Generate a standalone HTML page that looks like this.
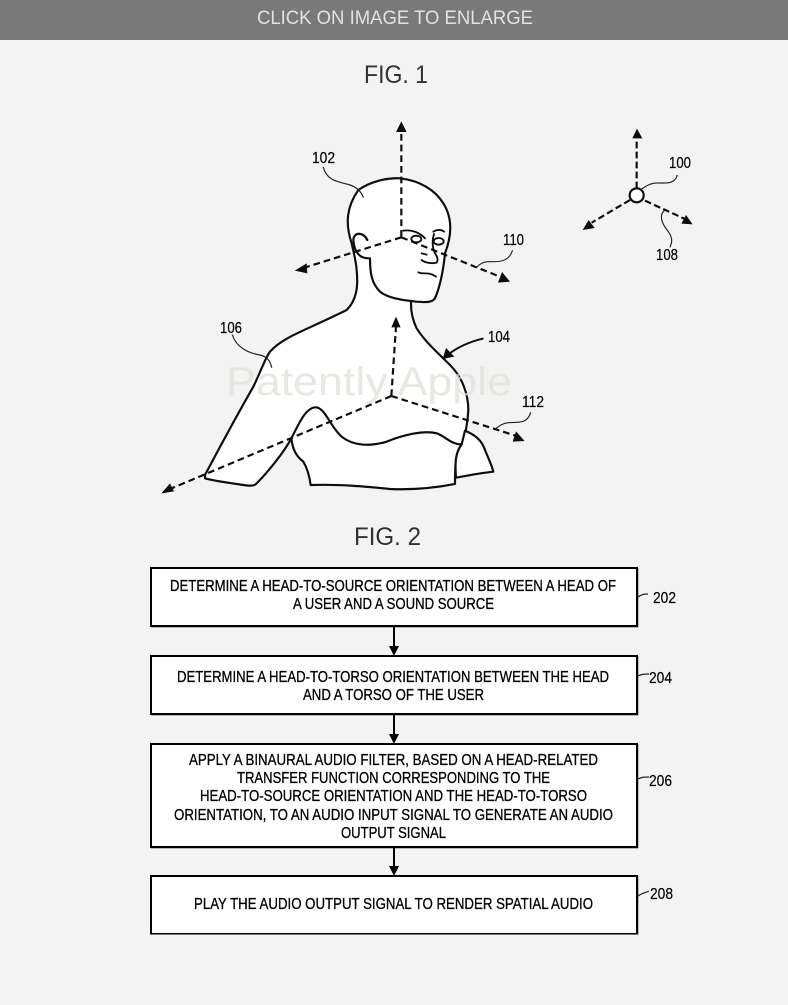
<!DOCTYPE html>
<html><head><meta charset="utf-8"><style>
html,body{margin:0;padding:0;background:#f3f3f3}
svg{display:block}
text{font-family:"Liberation Sans",sans-serif;fill:#222}
.t{font-size:16px;text-anchor:start;fill:#000;stroke:#000;stroke-width:.3px}
.n{font-size:16px;fill:#000;stroke:#000;stroke-width:.2px}
</style></head><body>
<svg xmlns="http://www.w3.org/2000/svg" width="788" height="1005" viewBox="0 0 788 1005">
<defs><filter id="b" x="0" y="0" width="100%" height="100%"><feGaussianBlur stdDeviation="0.35"/></filter></defs>
<rect width="788" height="1005" fill="#f3f3f3"/>
<g filter="url(#b)">
<rect width="788" height="40" fill="#797979"/>
<text x="257" y="24" font-size="19" style="fill:#e2e2e2" textLength="276" lengthAdjust="spacingAndGlyphs">CLICK ON IMAGE TO ENLARGE</text>
<text x="364" y="83" font-size="25" style="fill:#333" textLength="64" lengthAdjust="spacingAndGlyphs">FIG. 1</text>
<text x="354" y="545" font-size="25" style="fill:#333" textLength="67" lengthAdjust="spacingAndGlyphs">FIG. 2</text>

<g transform="translate(150 110) scale(.33333)" fill="none" stroke="#111" stroke-width="6.5" stroke-linecap="round" stroke-linejoin="round">
<path fill="#fff" d="M605 400C585 340 590 290 625 240C660 215 710 203 750 205C810 212 855 240 880 280C905 320 908 370 885 430C880 480 870 530 855 565C845 578 830 577 800 575L783 573C782 600 785 625 800 655C825 695 860 725 900 765C935 800 955 850 955 900C953 940 945 980 935 1003C915 1030 915 1070 915 1122C850 1135 790 1140 720 1137C650 1130 570 1122 482 1125C478 1095 472 1075 460 1055C440 1040 428 1020 424 985C400 1030 350 1090 318 1122C310 1130 290 1127 260 1122C225 1117 190 1112 165 1105L165 1095C210 1010 270 900 310 830C330 790 345 745 360 725C400 680 470 660 590 600C620 570 625 530 620 480C618 450 610 425 605 400Z"/>
<path fill="#fff" d="M945 962C975 975 995 990 1005 1020C1015 1045 1025 1065 1030 1085C1000 1088 960 1095 918 1103C915 1060 915 1030 935 1003Z"/>
<path d="M424 985C445 945 465 895 495 892C525 890 540 950 575 980C610 1008 660 1010 710 995C760 975 820 960 860 970C885 978 905 1005 935 1003"/>
<path fill="#fff" d="M652 390C640 365 612 365 610 390C612 420 625 445 655 445" />
<path d="M660 445C660 490 665 520 690 545C715 565 760 570 783 573"/>
<path stroke-width="5.5" d="M760 362C785 358 810 368 825 385"/>
<ellipse cx="799" cy="387" rx="15" ry="10" stroke-width="5.5"/>
<ellipse cx="866" cy="394" rx="15" ry="10" stroke-width="5.5"/>
<path stroke-width="5.5" d="M850 365C860 358 875 358 882 365M852 372C845 395 848 415 855 430C862 440 865 450 860 458C845 462 825 458 815 450M815 430L830 434"/>
<path stroke-width="5.5" d="M805 487C820 495 835 483 858 500"/>
<g stroke-width="3.5" stroke="#222">
<path d="M520 172C530 210 560 215 590 222C615 228 632 240 640 262"/>
<path d="M247 675C260 715 300 730 330 735C350 740 360 750 365 772"/>
<path d="M1087 422C1075 460 1040 455 1015 455C1000 455 990 460 980 472"/>
<path d="M1142 908C1130 945 1100 935 1075 938C1055 940 1045 950 1035 958"/>
</g>
<path stroke-width="6" d="M998 686C960 695 925 710 895 733"/>
<path fill="#111" stroke="none" d="M878 747L888 714L913 740Z"/>
<g stroke-width="6.5" stroke-dasharray="20 12" stroke-linecap="butt">
<path d="M754 380V60"/>
<path d="M754 382L460 474"/>
<path d="M754 382L1050 500"/>
<path d="M724 858L738 650"/>
<path d="M724 858L60 1137"/>
<path d="M724 858L1100 978"/>
</g>
<g fill="#111" stroke="none">
<path d="M754 34L770 66H738Z"/>
<path d="M434 482L470 460L472 490Z"/>
<path d="M1080 515L1044 518L1056 486Z"/>
<path d="M738 620L752 652H724Z"/>
<path d="M34 1150L60 1120L72 1144Z"/>
<path d="M1124 993L1088 995L1098 964Z"/>
</g>
</g>

<text x="226" y="395" font-size="40" style="fill:#e2ded6;opacity:.7" textLength="286" lengthAdjust="spacingAndGlyphs">Patently Apple</text>

<text class="n" x="312" y="163" textLength="23" lengthAdjust="spacingAndGlyphs">102</text>
<text class="n" x="503" y="245" textLength="21" lengthAdjust="spacingAndGlyphs">110</text>
<text class="n" x="220" y="333" textLength="22" lengthAdjust="spacingAndGlyphs">106</text>
<text class="n" x="488" y="342" textLength="22" lengthAdjust="spacingAndGlyphs">104</text>
<text class="n" x="522" y="407" textLength="22" lengthAdjust="spacingAndGlyphs">112</text>
<text class="n" x="669" y="168" textLength="22" lengthAdjust="spacingAndGlyphs">100</text>
<text class="n" x="656" y="260" textLength="22" lengthAdjust="spacingAndGlyphs">108</text>

<g transform="translate(570 120) scale(.33333)" fill="none" stroke="#111" stroke-width="6.5">
<g stroke-dasharray="20 10">
<path d="M200 205V55"/>
<path d="M180 240L65 308"/>
<path d="M225 242L345 297"/>
</g>
<g fill="#111" stroke="none">
<path d="M201 26L217 55H187Z"/>
<path d="M38 330L56 300L74 324Z"/>
<path d="M368 313L334 311L348 285Z"/>
</g>
<circle cx="200" cy="226" r="21" fill="#fff"/>
<g stroke-width="3.5" stroke="#222">
<path d="M322 165C312 200 275 185 250 190C235 193 225 200 215 207"/>
<path d="M285 270C265 285 275 310 295 335C310 355 305 370 300 382"/>
</g>
</g>

<g fill="#fff" stroke="#000" stroke-width="2">
<rect x="151" y="568" width="486" height="58"/>
<rect x="151" y="656" width="486" height="58"/>
<rect x="151" y="744" width="486" height="103"/>
<rect x="151" y="876" width="486" height="58"/>
</g>
<g stroke="#000" stroke-width="1.5">
<path d="M151 626.5H637.5V568M151 714.5H637.5V656M151 847.5H637.5V744M151 934.5H637.5V876" fill="none"/>
</g>
<g stroke="#000" stroke-width="2" fill="none">
<path d="M394 627V647M394 715V735M394 848V867"/>
</g>
<g fill="#000">
<path d="M389 646H399L394 656Z"/>
<path d="M389 734H399L394 744Z"/>
<path d="M389 866H399L394 876Z"/>
</g>
<g stroke="#222" stroke-width="1.2" fill="none">
<path d="M638 597C642 594 645 594 648 594"/>
<path d="M638 676C642 674 645 674 649 674"/>
<path d="M638 779C642 777 645 777 649 777"/>
<path d="M638 896C642 893 645 893 649 891"/>
</g>

<text class="t" x="170" y="591" textLength="446" lengthAdjust="spacingAndGlyphs">DETERMINE A HEAD-TO-SOURCE ORIENTATION BETWEEN A HEAD OF</text>
<text class="t" x="293" y="609" textLength="201" lengthAdjust="spacingAndGlyphs">A USER AND A SOUND SOURCE</text>
<text class="t" x="177" y="682" textLength="432" lengthAdjust="spacingAndGlyphs">DETERMINE A HEAD-TO-TORSO ORIENTATION BETWEEN THE HEAD</text>
<text class="t" x="303" y="700" textLength="181" lengthAdjust="spacingAndGlyphs">AND A TORSO OF THE USER</text>
<text class="t" x="189" y="765" textLength="409" lengthAdjust="spacingAndGlyphs">APPLY A BINAURAL AUDIO FILTER, BASED ON A HEAD-RELATED</text>
<text class="t" x="237" y="783" textLength="313" lengthAdjust="spacingAndGlyphs">TRANSFER FUNCTION CORRESPONDING TO THE</text>
<text class="t" x="200" y="801" textLength="387" lengthAdjust="spacingAndGlyphs">HEAD-TO-SOURCE ORIENTATION AND THE HEAD-TO-TORSO</text>
<text class="t" x="174" y="820" textLength="439" lengthAdjust="spacingAndGlyphs">ORIENTATION, TO AN AUDIO INPUT SIGNAL TO GENERATE AN AUDIO</text>
<text class="t" x="341" y="838" textLength="105" lengthAdjust="spacingAndGlyphs">OUTPUT SIGNAL</text>
<text class="t" x="194" y="909" textLength="399" lengthAdjust="spacingAndGlyphs">PLAY THE AUDIO OUTPUT SIGNAL TO RENDER SPATIAL AUDIO</text>

<text class="n" x="653" y="603" textLength="23" lengthAdjust="spacingAndGlyphs">202</text>
<text class="n" x="649" y="683" textLength="23" lengthAdjust="spacingAndGlyphs">204</text>
<text class="n" x="649" y="786" textLength="23" lengthAdjust="spacingAndGlyphs">206</text>
<text class="n" x="650" y="899" textLength="23" lengthAdjust="spacingAndGlyphs">208</text>
</g>
</svg>
</body></html>
